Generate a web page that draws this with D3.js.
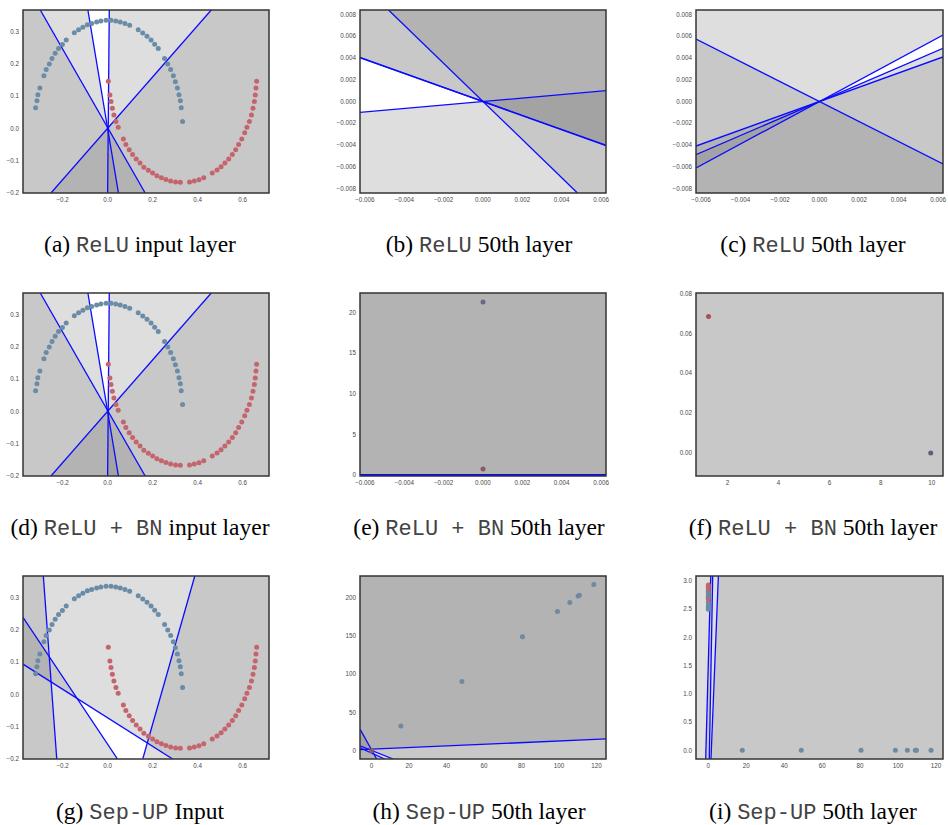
<!DOCTYPE html>
<html>
<head>
<meta charset="utf-8">
<script src="https://cdn.jsdelivr.net/npm/d3@7"></script>
<style>
  html, body { margin: 0; padding: 0; background: #fff; }
  svg { display: block; }
</style>
</head>
<body>
<svg id="fig" width="948" height="825"></svg>
<script>
// ---------------------------------------------------------------
// Two-moons training sample (outer moon = blue class, inner = red)
// ---------------------------------------------------------------
const blueMoon = [
  [-0.320,0.064],[-0.314,0.085],[-0.310,0.104],[-0.301,0.125],[-0.283,0.163],
  [-0.273,0.182],[-0.259,0.199],[-0.247,0.216],[-0.233,0.232],[-0.218,0.247],
  [-0.201,0.259],[-0.184,0.273],[-0.148,0.296],[-0.129,0.305],[-0.110,0.313],
  [-0.090,0.320],[-0.071,0.324],[-0.049,0.329],[-0.030,0.332],[-0.007,0.334],
  [0.015,0.334],[0.036,0.332],[0.056,0.329],[0.077,0.324],[0.098,0.319],
  [0.136,0.305],[0.156,0.295],[0.175,0.285],[0.193,0.273],[0.209,0.260],
  [0.225,0.247],[0.253,0.216],[0.267,0.199],[0.280,0.182],[0.292,0.163],
  [0.301,0.144],[0.310,0.125],[0.317,0.104],[0.323,0.085],[0.327,0.064],
  [0.333,0.021]
];
const redMoon = [
  [0.003,0.146],[0.010,0.103],[0.015,0.083],[0.021,0.062],[0.028,0.041],
  [0.037,0.021],[0.047,0.003],[0.070,-0.033],[0.081,-0.050],[0.096,-0.066],
  [0.111,-0.081],[0.127,-0.095],[0.144,-0.107],[0.161,-0.120],[0.181,-0.130],
  [0.200,-0.138],[0.219,-0.147],[0.239,-0.153],[0.259,-0.158],[0.280,-0.163],
  [0.302,-0.166],[0.323,-0.167],[0.364,-0.166],[0.385,-0.163],[0.406,-0.159],
  [0.427,-0.153],[0.465,-0.138],[0.486,-0.129],[0.504,-0.119],[0.521,-0.107],
  [0.538,-0.095],[0.554,-0.081],[0.569,-0.066],[0.582,-0.050],[0.596,-0.033],
  [0.609,-0.014],[0.619,0.003],[0.630,0.021],[0.639,0.041],[0.646,0.062],
  [0.652,0.083],[0.656,0.103],[0.659,0.125],[0.662,0.146]
];

// Mapped samples after 50 layers
const pointsReluBn50 = [ { x: 0, y: 21.3, c: "mix" }, { x: 0, y: 0.74, c: "redDark" } ];
const pointsReluBn50b = [ { x: 1.26, y: 0.0685, c: "redDeep" }, { x: 9.96, y: 0, c: "mixBlue" } ];
const pointsSepUp50 = [
  { x: 15.6, y: 32.2, c: "blueGrey" }, { x: 48.2, y: 90.6, c: "blueGrey" },
  { x: 80.5, y: 149.0, c: "blueGrey" }, { x: 99.2, y: 182.1, c: "blueGrey" },
  { x: 105.8, y: 193.9, c: "blueGrey" }, { x: 110.2, y: 202.2, c: "blueGrey" },
  { x: 110.9, y: 203.1, c: "blueGrey" }, { x: 118.6, y: 217.4, c: "blueGrey" },
  { x: 0, y: 0, c: "redDark" }
];
const pointsSepUp50b = [
  { x: 17.9, y: 0, c: "blueGrey" }, { x: 49.0, y: 0, c: "blueGrey" },
  { x: 80.5, y: 0, c: "blueGrey" }, { x: 98.6, y: 0, c: "blueGrey" },
  { x: 104.9, y: 0, c: "blueGrey" }, { x: 109.1, y: 0, c: "blueGrey" },
  { x: 109.7, y: 0, c: "blueGrey" }, { x: 117.4, y: 0, c: "blueGrey" },
  { x: 0, y: 2.50, c: "blue" }, { x: 0, y: 2.53, c: "blue" }, { x: 0, y: 2.56, c: "blue" },
  { x: 0, y: 2.62, c: "blue" }, { x: 0, y: 2.68, c: "red" }, { x: 0, y: 2.71, c: "red" },
  { x: 0, y: 2.74, c: "blueGrey" }, { x: 0, y: 2.78, c: "blueGrey" }, { x: 0, y: 2.82, c: "blueGrey" },
  { x: 0, y: 2.86, c: "red" }, { x: 0, y: 2.90, c: "red" }, { x: 0, y: 2.93, c: "red" }
];

// ReLU units: boundary w·x + b = 0, unit active where w·x + b > 0
const unitsReluIn = [
  { w: [-1.214, -1], b: 0.0025 },
  { w: [-4.17, -1], b: 0 },
  { w: [1, -0.013], b: -0.0026 },
  { w: [0.795, -1], b: 0 }
];
const unitsRelu50 = [
  { w: [0.64, 1], b: 0 },
  { w: [0.65, 1], b: 0 },
  { w: [1.75, 1], b: 0 },
  { w: [0.16, -1], b: 0 }
];
const unitsRelu50b = [
  { w: [-0.917, -1], b: 0 },
  { w: [0.654, -1], b: 0 },
  { w: [0.78, -1], b: 0 },
  { w: [-0.976, 1], b: 0 }
];
const unitsReluBn50 = [
  { w: [0, 1], b: -0.05 },
  { w: [0, 1], b: 0 },
  { w: [0, 1], b: 0.04 }
];
const unitsSepUpIn = [
  { w: [-1, -0.1056], b: -0.2471 },
  { w: [-1.043, -1], b: -0.1541 },
  { w: [0.4413, 1], b: 0.0725 },
  { w: [2.448, -1], b: -0.582 }
];
const unitsSepUp50 = [
  { w: [-0.107, 1], b: -2 },
  { w: [-4.39, -1], b: 1.08 },
  { w: [0.977, 1], b: -0.44 },
  { w: [-1.114, -1], b: -3.0 }
];
const unitsSepUp50b = [
  { w: [1, -0.8205], b: 1.2736 },
  { w: [-1, 0.5552], b: 0.5855 },
  { w: [1, -1.203], b: -1.585 }
];

// Tick values
const ticksMoonX = [-0.2, 0, 0.2, 0.4, 0.6];
const ticksMoonY = [-0.2, -0.1, 0, 0.1, 0.2, 0.3];
const ticksTinyX = [-0.006, -0.004, -0.002, 0, 0.002, 0.004, 0.006];
const ticksTinyY = [-0.008, -0.006, -0.004, -0.002, 0, 0.002, 0.004, 0.006, 0.008];
const ticksBnY = [0, 5, 10, 15, 20];
const ticksBnX2 = [2, 4, 6, 8, 10];
const ticksBnY2 = [0, 0.02, 0.04, 0.06, 0.08];
const ticksSepX = [0, 20, 40, 60, 80, 100, 120];
const ticksSepY = [0, 50, 100, 150, 200];
const ticksSepY2 = [0, 0.5, 1, 1.5, 2, 2.5, 3];

// Axis limits
const limMoonX = [-0.376, 0.717], limMoonY = [-0.2, 0.366];
const limTinyX = [-0.00625, 0.00625], limTinyY = [-0.0084, 0.0084];
const limBnY = [-0.12, 22.4];
const limBnX2 = [0.77, 10.44], limBnY2 = [-0.0116, 0.0803];
const limSepX = [-6.2, 125.1], limSepY = [-10.8, 228.4];
const limSepX2 = [-6.5, 123.7], limSepY2 = [-0.154, 3.088];

// Captions: [label, code name, description]
const captions = [
  ["(a) ", "ReLU", " input layer"],
  ["(b) ", "ReLU", " 50th layer"],
  ["(c) ", "ReLU", " 50th layer"],
  ["(d) ", "ReLU + BN", " input layer"],
  ["(e) ", "ReLU + BN", " 50th layer"],
  ["(f) ", "ReLU + BN", " 50th layer"],
  ["(g) ", "Sep-UP", " Input"],
  ["(h) ", "Sep-UP", " 50th layer"],
  ["(i) ", "Sep-UP", " 50th layer"]
];

const moonPoints = blueMoon.map(p => ({ x: p[0], y: p[1], c: "blue" }))
  .concat(redMoon.map(p => ({ x: p[0], y: p[1], c: "red" })));

const panels = [
  { xd: limMoonX, yd: limMoonY, xt: ticksMoonX, yt: ticksMoonY, xf: ".1f", yf: ".1f", units: unitsReluIn, base: 0, pts: moonPoints },
  { xd: limTinyX, yd: limTinyY, xt: ticksTinyX, yt: ticksTinyY, xf: ".3f", yf: ".3f", units: unitsRelu50, base: 0, pts: [] },
  { xd: limTinyX, yd: limTinyY, xt: ticksTinyX, yt: ticksTinyY, xf: ".3f", yf: ".3f", units: unitsRelu50b, base: 0, pts: [] },
  { xd: limMoonX, yd: limMoonY, xt: ticksMoonX, yt: ticksMoonY, xf: ".1f", yf: ".1f", units: unitsReluIn, base: 0, pts: moonPoints },
  { xd: limTinyX, yd: limBnY, xt: ticksTinyX, yt: ticksBnY, xf: ".3f", yf: "d", units: unitsReluBn50, base: 0, pts: pointsReluBn50 },
  { xd: limBnX2, yd: limBnY2, xt: ticksBnX2, yt: ticksBnY2, xf: "d", yf: ".2f", units: [], base: 2, pts: pointsReluBn50b },
  { xd: limMoonX, yd: limMoonY, xt: ticksMoonX, yt: ticksMoonY, xf: ".1f", yf: ".1f", units: unitsSepUpIn, base: 0, pts: moonPoints },
  { xd: limSepX, yd: limSepY, xt: ticksSepX, yt: ticksSepY, xf: "d", yf: "d", units: unitsSepUp50, base: 1, pts: pointsSepUp50 },
  { xd: limSepX2, yd: limSepY2, xt: ticksSepX, yt: ticksSepY2, xf: "d", yf: ".1f", units: unitsSepUp50b, base: 0, pts: pointsSepUp50b }
];

// ---------------------------------------------------------------
// Layout
// ---------------------------------------------------------------
const cols = [ { x0: 23, x1: 269, cap: 140 }, { x0: 360, x1: 606, cap: 479 }, { x0: 696, x1: 943, cap: 813 } ];
const rows = [ { y0: 10, y1: 193, cap: 252 }, { y0: 293, y1: 476, cap: 535 }, { y0: 576, y1: 759, cap: 819 } ];

// grey level = number of active units in a region
const shade = d3.scaleOrdinal().domain([0, 1, 2, 3, 4, 5])
  .range(["#ffffff", "#dedede", "#c8c8c8", "#b3b3b3", "#a3a3a3", "#949494"]);
const classColor = d3.scaleOrdinal()
  .domain(["blue", "red", "blueGrey", "mix", "mixBlue", "redDark", "redDeep"])
  .range(["#6a8ca6", "#c4646d", "#6f8aa0", "#6a6882", "#5e5f7f", "#8d5864", "#a74e5a"]);

const svg = d3.select("#fig");
const defs = svg.append("defs");

// split a polygon by the sign of f
function splitPoly(poly, f) {
  const pos = [], neg = [];
  for (let i = 0; i < poly.length; i++) {
    const p = poly[i], q = poly[(i + 1) % poly.length];
    const fp = f(p), fq = f(q);
    if (fp >= 0) pos.push(p);
    if (fp <= 0) neg.push(p);
    if ((fp > 0 && fq < 0) || (fp < 0 && fq > 0)) {
      const t = fp / (fp - fq);
      const r = [p[0] + t * (q[0] - p[0]), p[1] + t * (q[1] - p[1])];
      pos.push(r); neg.push(r);
    }
  }
  return [pos, neg];
}

// boundary segment of a unit inside the axis box
function boundary(u, xd, yd) {
  const [a, b] = u.w, c = u.b, pts = [];
  const ex = (xd[1] - xd[0]) * 1e-9, ey = (yd[1] - yd[0]) * 1e-9;
  if (b !== 0) xd.forEach(xv => { const yv = -(a * xv + c) / b; if (yv >= yd[0] - ey && yv <= yd[1] + ey) pts.push([xv, yv]); });
  if (a !== 0) yd.forEach(yv => { const xv = -(b * yv + c) / a; if (xv >= xd[0] - ex && xv <= xd[1] + ex) pts.push([xv, yv]); });
  return pts;
}

panels.forEach((p, i) => {
  const col = cols[i % 3], row = rows[Math.floor(i / 3)];
  const x = d3.scaleLinear().domain(p.xd).range([col.x0, col.x1]);
  const y = d3.scaleLinear().domain(p.yd).range([row.y1, row.y0]);
  const g = svg.append("g");

  const clipId = "plot-clip-" + i;
  defs.append("clipPath").attr("id", clipId).append("rect")
    .attr("x", col.x0).attr("y", row.y0)
    .attr("width", col.x1 - col.x0).attr("height", row.y1 - row.y0);

  // activation regions
  let cells = [{ poly: [[p.xd[0], p.yd[0]], [p.xd[1], p.yd[0]], [p.xd[1], p.yd[1]], [p.xd[0], p.yd[1]]], level: p.base }];
  p.units.forEach(u => {
    const f = pt => u.w[0] * pt[0] + u.w[1] * pt[1] + u.b;
    const next = [];
    cells.forEach(cell => {
      const [pos, neg] = splitPoly(cell.poly, f);
      if (pos.length > 2) next.push({ poly: pos, level: cell.level + 1 });
      if (neg.length > 2) next.push({ poly: neg, level: cell.level });
    });
    cells = next;
  });
  const toPath = d3.line().x(d => x(d[0])).y(d => y(d[1]));
  const plot = g.append("g").attr("clip-path", `url(#${clipId})`);
  plot.append("g").selectAll("path").data(cells).join("path")
    .attr("d", d => toPath(d.poly) + "Z")
    .attr("fill", d => shade(d.level))
    .attr("stroke", d => shade(d.level))
    .attr("stroke-width", 0.6);

  // unit boundaries
  const segs = p.units.map(u => boundary(u, p.xd, p.yd)).filter(s => s.length >= 2);
  plot.append("g").selectAll("line").data(segs).join("line")
    .attr("x1", d => x(d[0][0])).attr("y1", d => y(d[0][1]))
    .attr("x2", d => x(d[d.length - 1][0])).attr("y2", d => y(d[d.length - 1][1]))
    .attr("stroke", "#0a0aff").attr("stroke-width", 1.3);

  // samples
  plot.append("g").selectAll("circle").data(p.pts).join("circle")
    .attr("cx", d => x(d.x)).attr("cy", d => y(d.y)).attr("r", 2.5)
    .attr("fill", d => classColor(d.c));

  // frame
  g.append("rect")
    .attr("x", col.x0).attr("y", row.y0)
    .attr("width", col.x1 - col.x0).attr("height", row.y1 - row.y0)
    .attr("fill", "none").attr("stroke", "#353535").attr("stroke-width", 1.5);

  // tick labels
  const fx = d3.format(p.xf), fy = d3.format(p.yf);
  g.append("g").selectAll("text").data(p.xt).join("text")
    .attr("x", d => x(d)).attr("y", row.y1 + 8.5)
    .attr("text-anchor", "middle")
    .attr("font-family", "Liberation Sans, Arial, sans-serif")
    .attr("font-size", 6.3).attr("fill", "#4a4a4a")
    .text(d => fx(d));
  g.append("g").selectAll("text").data(p.yt).join("text")
    .attr("x", col.x0 - 4).attr("y", d => y(d) + 2.2)
    .attr("text-anchor", "end")
    .attr("font-family", "Liberation Sans, Arial, sans-serif")
    .attr("font-size", 6.3).attr("fill", "#4a4a4a")
    .text(d => fy(d));

  // caption
  const cap = captions[i];
  const t = svg.append("text")
    .attr("x", col.cap).attr("y", row.cap)
    .attr("text-anchor", "middle")
    .attr("font-size", 23.5)
    .style("white-space", "pre");
  t.append("tspan").attr("font-family", "Liberation Serif, Times New Roman, serif").attr("fill", "#000").text(cap[0]);
  t.append("tspan").attr("font-family", "Liberation Mono, Courier New, monospace").attr("fill", "#444").attr("font-size", 22).text(cap[1]);
  t.append("tspan").attr("font-family", "Liberation Serif, Times New Roman, serif").attr("fill", "#000").text(cap[2]);
});
</script>
</body>
</html>
